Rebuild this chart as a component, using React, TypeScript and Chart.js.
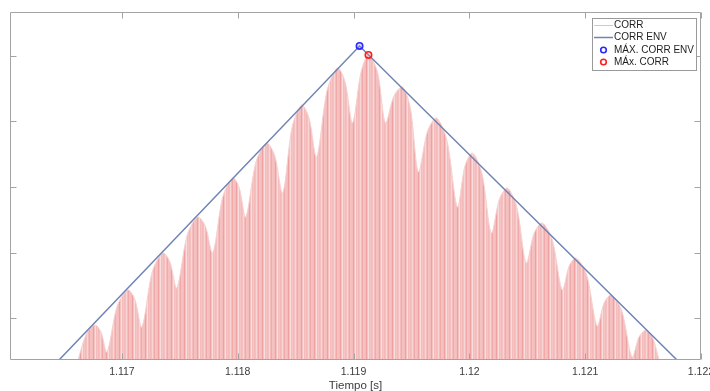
import React, { useEffect, useRef } from "react";
import { Chart, registerables } from "chart.js";

Chart.register(...registerables);

// CORR silhouette (time [s], amplitude)
const CORR_T = [
  1.116621, 1.116694, 1.116767, 1.116819, 1.116871, 1.116961, 1.117052, 1.117112, 1.117172, 1.117263,
  1.117353, 1.117414, 1.117474, 1.117565, 1.117655, 1.11772, 1.117784, 1.117871, 1.117957, 1.118013,
  1.118069, 1.118159, 1.11825, 1.118319, 1.118388, 1.11847, 1.118552, 1.118616, 1.118681, 1.118772,
  1.118862, 1.118927, 1.118991, 1.119065, 1.119129, 1.119207, 1.119276, 1.119349, 1.119422, 1.119491,
  1.11956, 1.119638, 1.119716, 1.119806, 1.119897, 1.119961, 1.120026, 1.120108, 1.12019, 1.120259,
  1.120328, 1.120409, 1.120491, 1.12056, 1.120629, 1.120716, 1.120802, 1.120862, 1.120922, 1.121013,
  1.121103, 1.121164, 1.121224, 1.121315, 1.121405, 1.121466, 1.121526, 1.121582, 1.121638,
];
const CORR_V = [
  0.368, 0.768, 0.901, 0.798, 0.49, 1.198, 1.434, 1.293, 0.871, 1.715,
  1.997, 1.864, 1.464, 2.275, 2.545, 2.408, 1.997, 2.853, 3.139, 2.99,
  2.545, 3.39, 3.671, 3.481, 2.91, 3.915, 4.25, 4.052, 3.458, 4.474,
  4.813, 4.604, 3.976, 4.752, 5.011, 4.752, 3.976, 4.387, 4.524, 4.2,
  3.23, 3.846, 4.052, 3.713, 2.697, 3.314, 3.519, 3.215, 2.301, 2.815,
  2.986, 2.701, 1.845, 2.301, 2.454, 2.199, 1.434, 1.799, 1.921, 1.662,
  0.886, 1.24, 1.358, 1.122, 0.414, 0.722, 0.825, 0.711, 0.368,
];

// CORR ENV (triangle)
const ENV_T = [1.116457, 1.119052, 1.121793];
const ENV_V = [0.368, 5.148, 0.368];

// maxima markers
const MAX_ENV_T = [1.119052];
const MAX_ENV_V = [5.148];
const MAX_CORR_T = [1.119129];
const MAX_CORR_V = [5.011];

const SERIES_LABELS = ["CORR", "CORR ENV", "MÁX. CORR ENV", "MÁx. CORR"];

const X_MIN = 1.116034;
const X_MAX = 1.122;
const Y_MIN = 0.368;
const Y_MAX = 5.665;
const X_TICKS = [1.117, 1.118, 1.119, 1.12, 1.121, 1.122];
const X_TICK_LABELS = ["1.117", "1.118", "1.119", "1.12", "1.121", "1.122"];
const Y_TICKS = [1, 2, 3, 4, 5];
const X_TITLE = "Tiempo [s]";

const AXIS_COLOR = "#a3a3a3";
const TEXT_COLOR = "#3c3c3c";
const ENV_COLOR = "rgb(112,132,180)";
const FONT = '"Liberation Sans", Arial, Helvetica, sans-serif';

function makeStripePattern(): CanvasPattern | string {
  const c = document.createElement("canvas");
  const cols = [
    "rgb(245,192,192)",
    "rgb(244,188,188)",
    "rgb(239,160,160)",
    "rgb(245,194,194)",
    "rgb(250,222,222)",
    "rgb(244,189,189)",
    "rgb(246,198,198)",
    "rgb(244,186,186)",
    "rgb(245,192,192)",
    "rgb(249,214,214)",
    "rgb(244,188,188)",
    "rgb(241,170,170)",
    "rgb(245,193,193)",
  ];
  c.width = cols.length;
  c.height = 4;
  const g = c.getContext("2d");
  if (!g) return "rgb(244,190,190)";
  cols.forEach((col, i) => {
    g.fillStyle = col;
    g.fillRect(i, 0, 1, 4);
  });
  const p = g.createPattern(c, "repeat");
  return p || "rgb(244,190,190)";
}

const axesPlugin = {
  id: "matlabAxes",
  afterDatasetsDraw(chart: any) {
    const { ctx, chartArea, scales } = chart;
    const { left, top, right, bottom } = chartArea;
    const xs = scales.x;
    const ys = scales.y;
    ctx.save();
    ctx.strokeStyle = AXIS_COLOR;
    ctx.lineWidth = 1;
    const L = Math.round(left) + 0.5;
    const R = Math.round(right) - 0.5;
    const T = Math.round(top) + 0.5;
    const B = Math.round(bottom) - 0.5;
    ctx.beginPath();
    ctx.rect(L, T, R - L, B - T);
    ctx.stroke();
    const tl = 6;
    ctx.beginPath();
    X_TICKS.forEach((v) => {
      const px = Math.round(xs.getPixelForValue(v)) + 0.5;
      ctx.moveTo(px, B);
      ctx.lineTo(px, B - tl);
      ctx.moveTo(px, T);
      ctx.lineTo(px, T + tl);
    });
    Y_TICKS.forEach((v) => {
      const py = Math.round(ys.getPixelForValue(v)) + 0.5;
      ctx.moveTo(L, py);
      ctx.lineTo(L + tl, py);
      ctx.moveTo(R, py);
      ctx.lineTo(R - tl, py);
    });
    ctx.stroke();

    ctx.fillStyle = TEXT_COLOR;
    ctx.font = `10.5px ${FONT}`;
    ctx.textAlign = "center";
    ctx.textBaseline = "middle";
    X_TICKS.forEach((v, i) => {
      const px = xs.getPixelForValue(v);
      ctx.fillText(X_TICK_LABELS[i], px, bottom + 12);
    });
    ctx.font = `11.5px ${FONT}`;
    ctx.fillText(X_TITLE, (left + right) / 2, bottom + 26);
    ctx.restore();
  },
  afterDraw(chart: any) {
    const { ctx } = chart;
    const ds = chart.data.datasets;
    ctx.save();
    const bx = 592.5, by = 18.5, bw = 104, bh = 52;
    ctx.fillStyle = "#ffffff";
    ctx.fillRect(bx, by, bw, bh);
    ctx.strokeStyle = "#9a9a9a";
    ctx.lineWidth = 1;
    ctx.strokeRect(bx, by, bw, bh);
    const rows = [25, 37, 50, 62];
    ctx.font = `10px ${FONT}`;
    ctx.textAlign = "left";
    ctx.textBaseline = "middle";
    rows.forEach((ry, i) => {
      const d = ds[i];
      if (i < 2) {
        ctx.strokeStyle = i === 0 ? "rgb(244,185,185)" : ENV_COLOR;
        ctx.lineWidth = i === 0 ? 1 : 1.5;
        ctx.beginPath();
        ctx.moveTo(594, ry + 0.5);
        ctx.lineTo(613, ry + 0.5);
        ctx.stroke();
      } else {
        ctx.strokeStyle = d.borderColor;
        ctx.lineWidth = 1.6;
        ctx.beginPath();
        ctx.arc(603.5, ry, 2.8, 0, Math.PI * 2);
        ctx.stroke();
      }
      ctx.fillStyle = "#1e1e1e";
      ctx.fillText(d.label, 614, ry + 0.5);
    });
    ctx.restore();
  },
};

export default function App() {
  const ref = useRef<HTMLCanvasElement | null>(null);

  useEffect(() => {
    document.body.style.margin = "0";
    const canvas = ref.current;
    if (!canvas) return;
    const pattern = makeStripePattern();
    const chart = new Chart(canvas, {
      type: "line",
      data: {
        datasets: [
          {
            label: SERIES_LABELS[0],
            data: CORR_T.map((t, i) => ({ x: t, y: CORR_V[i] })),
            borderColor: "rgb(247,208,208)",
            borderWidth: 1,
            backgroundColor: pattern as any,
            fill: "start",
            tension: 0.3,
            pointRadius: 0,
            order: 3,
          },
          {
            label: SERIES_LABELS[1],
            data: ENV_T.map((t, i) => ({ x: t, y: ENV_V[i] })),
            borderColor: ENV_COLOR,
            borderWidth: 1.5,
            fill: false,
            tension: 0,
            pointRadius: 0,
            order: 2,
          },
          {
            label: SERIES_LABELS[2],
            data: MAX_ENV_T.map((t, i) => ({ x: t, y: MAX_ENV_V[i] })),
            showLine: false,
            borderColor: "rgb(40,40,255)",
            backgroundColor: "rgba(120,120,255,0.25)",
            pointRadius: 3.2,
            borderWidth: 1.6,
            order: 1,
          },
          {
            label: SERIES_LABELS[3],
            data: MAX_CORR_T.map((t, i) => ({ x: t, y: MAX_CORR_V[i] })),
            showLine: false,
            borderColor: "rgb(255,30,30)",
            backgroundColor: "rgba(255,120,120,0.2)",
            pointRadius: 3.2,
            borderWidth: 1.6,
            order: 0,
          },
        ],
      },
      options: {
        animation: false,
        responsive: false,
        maintainAspectRatio: false,
        layout: { padding: { left: 10, top: 12, right: 9, bottom: 31 } },
        plugins: {
          legend: { display: false },
          tooltip: { enabled: false },
        },
        scales: {
          x: { type: "linear", min: X_MIN, max: X_MAX, display: false },
          y: { type: "linear", min: Y_MIN, max: Y_MAX, display: false },
        },
      },
      plugins: [axesPlugin],
    });
    return () => chart.destroy();
  }, []);

  return (
    <canvas
      ref={ref}
      width={710}
      height={391}
      style={{ display: "block", width: 710, height: 391 }}
    />
  );
}
